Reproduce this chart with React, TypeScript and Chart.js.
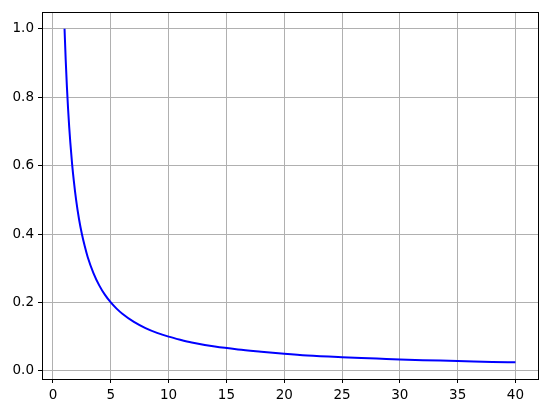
import React, { useEffect, useRef } from "react";
import { Chart, registerables } from "chart.js";

Chart.register(...registerables);

const xValues = [1, 1.1, 1.2, 1.3, 1.4, 1.5, 1.65, 1.8, 2, 2.25, 2.5, 2.75, 3, 3.5, 4, 4.5, 5, 5.5, 6, 7, 8, 9, 10, 11, 12, 14, 16, 18, 20, 22, 25, 28, 30, 32, 35, 38, 40];
const yValues = [1.0, 0.909, 0.833, 0.769, 0.714, 0.667, 0.606, 0.556, 0.5, 0.444, 0.4, 0.364, 0.333, 0.286, 0.25, 0.222, 0.2, 0.182, 0.167, 0.143, 0.125, 0.111, 0.1, 0.091, 0.083, 0.071, 0.0625, 0.056, 0.05, 0.045, 0.04, 0.036, 0.033, 0.031, 0.029, 0.026, 0.025];
const xTicks = [0, 5, 10, 15, 20, 25, 30, 35, 40];
const yTicks = [0.0, 0.2, 0.4, 0.6, 0.8, 1.0];

const frame = {
  id: "frame",
  afterDatasetsDraw(chart: any) {
    const { ctx, chartArea } = chart;
    ctx.save();
    ctx.strokeStyle = "#000";
    ctx.lineWidth = 1;
    ctx.strokeRect(
      Math.round(chartArea.left) + 0.5,
      Math.round(chartArea.top) + 0.5,
      Math.round(chartArea.right - chartArea.left),
      Math.round(chartArea.bottom - chartArea.top)
    );
    ctx.restore();
  },
};

export default function App() {
  const ref = useRef<HTMLCanvasElement>(null);
  useEffect(() => {
    const font = { family: "DejaVu Sans", size: 13.5 };
    const chart = new Chart(ref.current!, {
      type: "scatter",
      data: {
        datasets: [
          {
            data: xValues.map((x, i) => ({ x, y: yValues[i] })),
            showLine: true,
            borderColor: "#0000ff",
            borderWidth: 2,
            pointRadius: 0,
            cubicInterpolationMode: "monotone",
          },
        ],
      },
      options: {
        animation: false,
        responsive: false,
        maintainAspectRatio: false,
        layout: { padding: { top: 10, right: 9, left: 0, bottom: 0 } },
        plugins: { legend: { display: false }, tooltip: { enabled: false } },
        scales: {
          x: {
            type: "linear",
            min: -0.95,
            max: 41.95,
            afterBuildTicks: (s: any) => {
              s.ticks = xTicks.map((v) => ({ value: v }));
            },
            afterFit: (s: any) => {
              s.height = 34;
            },
            grid: { color: "#b0b0b0", lineWidth: 1, tickColor: "#000", tickLength: 4, drawTicks: true },
            border: { display: false },
            ticks: { color: "#000", font, padding: 4, maxRotation: 0, callback: (v: any) => String(v) },
          },
          y: {
            type: "linear",
            min: -0.02375,
            max: 1.04875,
            afterBuildTicks: (s: any) => {
              s.ticks = yTicks.map((v) => ({ value: v }));
            },
            afterFit: (s: any) => {
              s.width = 42;
            },
            grid: { color: "#b0b0b0", lineWidth: 1, tickColor: "#000", tickLength: 4, drawTicks: true },
            border: { display: false },
            ticks: { color: "#000", font, padding: 4, callback: (v: any) => Number(v).toFixed(1) },
          },
        },
      },
      plugins: [frame],
    });
    return () => chart.destroy();
  }, []);
  return (
    <div style={{ position: "fixed", left: 0, top: 0, width: 547, height: 413, background: "#fff" }}>
      <canvas ref={ref} width={547} height={413} style={{ width: 547, height: 413 }} />
    </div>
  );
}
